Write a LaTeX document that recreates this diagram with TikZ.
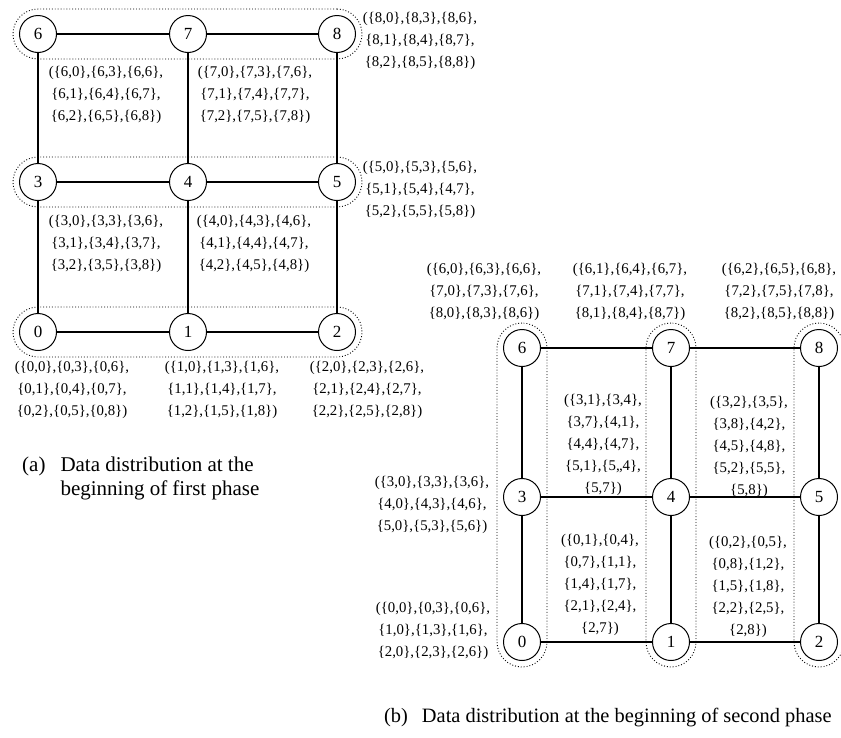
\documentclass[tikz,border=0pt]{standalone}
\usepackage{fontspec}
\setmainfont{Liberation Serif}
\usetikzlibrary{fit}
% a block {i,j}
\newcommand\pair[2]{\{#1,#2\}}
\begin{document}
\begin{tikzpicture}[x=1pt,y=-1pt,
  proc/.style={circle, draw, line width=1pt, minimum size=37pt, inner sep=0pt,
    font=\fontsize{17}{17}\selectfont},
  link/.style={line width=2.5pt},
  group/.style={draw, dotted, line width=0.9pt, rounded corners=25pt, inner sep=6pt},
  blocks/.style={align=center, inner sep=0pt, font=\fontsize{14.8}{22}\selectfont},
  caption/.style={inner sep=0pt, anchor=west, font=\fontsize{21}{24}\selectfont}
]
\useasboundingbox (0,0) rectangle (841,737);

% ---------- (a) first phase: rows of the 3x3 mesh ----------
\node[proc] (a6) at (38,34) {6};
\node[proc] (a7) at (188,34) {7};
\node[proc] (a8) at (337,34) {8};
\node[proc] (a3) at (38,182) {3};
\node[proc] (a4) at (188,182) {4};
\node[proc] (a5) at (337,182) {5};
\node[proc] (a0) at (38,332) {0};
\node[proc] (a1) at (188,332) {1};
\node[proc] (a2) at (337,332) {2};

\foreach \u/\v in {a6/a7,a7/a8,a3/a4,a4/a5,a0/a1,a1/a2,
                   a6/a3,a3/a0,a7/a4,a4/a1,a8/a5,a5/a2}
  \draw[link] (\u) -- (\v);

\node[group, fit=(a6)(a8)] (rowA2) {};
\node[group, fit=(a3)(a5)] (rowA1) {};
\node[group, fit=(a0)(a2)] (rowA0) {};

\node[blocks] (d6) at (106,95) {(\pair60,\pair63,\pair66,\\\pair61,\pair64,\pair67,\\\pair62,\pair65,\pair68)};
\node[blocks] (d7) at (255,95) {(\pair70,\pair73,\pair76,\\\pair71,\pair74,\pair77,\\\pair72,\pair75,\pair78)};
\node[blocks] (d8) at (420,41) {(\pair80,\pair83,\pair86,\\\pair81,\pair84,\pair87,\\\pair82,\pair85,\pair88)};
\node[blocks] (d3) at (106,244) {(\pair30,\pair33,\pair36,\\\pair31,\pair34,\pair37,\\\pair32,\pair35,\pair38)};
\node[blocks] (d4) at (254,244) {(\pair40,\pair43,\pair46,\\\pair41,\pair44,\pair47,\\\pair42,\pair45,\pair48)};
\node[blocks] (d5) at (420,190) {(\pair50,\pair53,\pair56,\\\pair51,\pair54,\pair47,\\\pair52,\pair55,\pair58)};
\node[blocks] (d0) at (72,390) {(\pair00,\pair03,\pair06,\\\pair01,\pair04,\pair07,\\\pair02,\pair05,\pair08)};
\node[blocks] (d1) at (222,390) {(\pair10,\pair13,\pair16,\\\pair11,\pair14,\pair17,\\\pair12,\pair15,\pair18)};
\node[blocks] (d2) at (367,390) {(\pair20,\pair23,\pair26,\\\pair21,\pair24,\pair27,\\\pair22,\pair25,\pair28)};

\node[caption] (capA) at (22,479) {\begin{tabular}{@{}l@{\hspace{15pt}}l@{}}(a)&Data distribution at the\\&beginning of first phase\end{tabular}};

% ---------- (b) second phase: columns of the 3x3 mesh ----------
\node[proc] (b6) at (522,348) {6};
\node[proc] (b7) at (671,348) {7};
\node[proc] (b8) at (819,348) {8};
\node[proc] (b3) at (522,497) {3};
\node[proc] (b4) at (671,497) {4};
\node[proc] (b5) at (819,497) {5};
\node[proc] (b0) at (522,642) {0};
\node[proc] (b1) at (671,642) {1};
\node[proc] (b2) at (819,642) {2};

\foreach \u/\v in {b6/b7,b7/b8,b3/b4,b4/b5,b0/b1,b1/b2,
                   b6/b3,b3/b0,b7/b4,b4/b1,b8/b5,b5/b2}
  \draw[link] (\u) -- (\v);

\node[group, fit=(b6)(b0)] (colB0) {};
\node[group, fit=(b7)(b1)] (colB1) {};
\node[group, fit=(b8)(b2)] (colB2) {};

\node[blocks] (e6) at (484,292) {(\pair60,\pair63,\pair66,\\\pair70,\pair73,\pair76,\\\pair80,\pair83,\pair86)};
\node[blocks] (e7) at (630,292) {(\pair61,\pair64,\pair67,\\\pair71,\pair74,\pair77,\\\pair81,\pair84,\pair87)};
\node[blocks] (e8) at (779,292) {(\pair62,\pair65,\pair68,\\\pair72,\pair75,\pair78,\\\pair82,\pair85,\pair88)};
\node[blocks] (e3) at (432,505) {(\pair30,\pair33,\pair36,\\\pair40,\pair43,\pair46,\\\pair50,\pair53,\pair56)};
\node[blocks] (e0) at (433,631) {(\pair00,\pair03,\pair06,\\\pair10,\pair13,\pair16,\\\pair20,\pair23,\pair26)};
\node[blocks] (e4) at (603,445) {(\pair31,\pair34,\\\pair37,\pair41,\\\pair44,\pair47,\\\pair51,\{5,,4\},\\\pair57)};
\node[blocks] (e5) at (749,447) {(\pair32,\pair35,\\\pair38,\pair42,\\\pair45,\pair48,\\\pair52,\pair55,\\\pair58)};
\node[blocks] (e1) at (600,585) {(\pair01,\pair04,\\\pair07,\pair11,\\\pair14,\pair17,\\\pair21,\pair24,\\\pair27)};
\node[blocks] (e2) at (748,587) {(\pair02,\pair05,\\\pair08,\pair12,\\\pair15,\pair18,\\\pair22,\pair25,\\\pair28)};

\node[caption, font=\fontsize{20.4}{24}\selectfont] (capB) at (384,718) {(b)\hspace{14pt}Data distribution at the beginning of second phase};
\end{tikzpicture}
\end{document}
